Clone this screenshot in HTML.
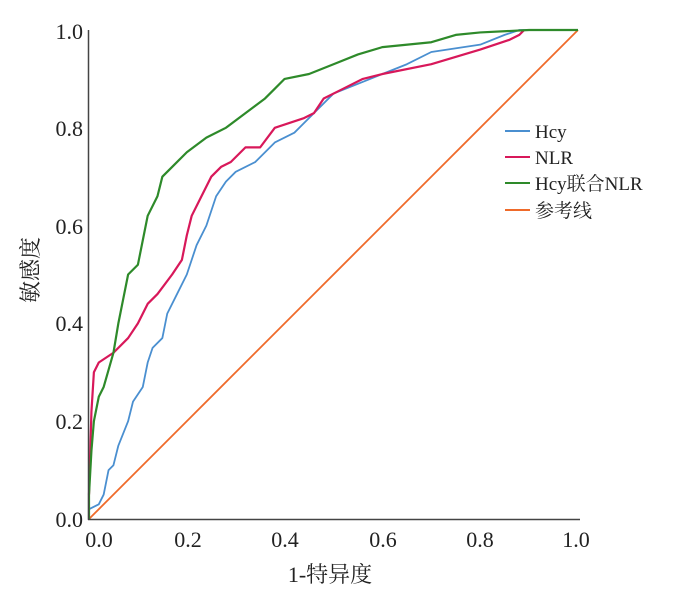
<!DOCTYPE html>
<html><head><meta charset="utf-8"><style>
body{margin:0;background:#fff;}
svg text{font-family:"Liberation Serif","Noto Serif CJK SC",serif;fill:#222;}
</style></head><body>
<svg width="700" height="591" xmlns="http://www.w3.org/2000/svg">
<g transform="translate(89,519) scale(489,-489)" fill="none" stroke-linejoin="round">
<line x1="0" y1="0" x2="1" y2="1" stroke="#ef6a2a" stroke-width="1.8" vector-effect="non-scaling-stroke"/>
<polyline vector-effect="non-scaling-stroke" stroke="#4a8fd0" stroke-width="1.8" points="0,0 0,0.02 0.02,0.03 0.03,0.05 0.04,0.1 0.05,0.11 0.06,0.15 0.08,0.2 0.09,0.24 0.11,0.27 0.12,0.32 0.13,0.35 0.15,0.37 0.16,0.42 0.18,0.46 0.2,0.5 0.22,0.56 0.24,0.6 0.26,0.66 0.28,0.69 0.3,0.71 0.34,0.73 0.38,0.77 0.42,0.79 0.46,0.83 0.5,0.87 0.55,0.89 0.6,0.91 0.65,0.93 0.7,0.955 0.8,0.97 0.85,0.99 0.88,1 1,1"/>
<polyline vector-effect="non-scaling-stroke" stroke="#d8185a" stroke-width="2.2" points="0,0.05 0.005,0.22 0.01,0.3 0.02,0.32 0.05,0.34 0.08,0.37 0.1,0.4 0.12,0.44 0.14,0.46 0.17,0.5 0.19,0.53 0.2,0.58 0.21,0.62 0.23,0.66 0.25,0.7 0.27,0.72 0.29,0.73 0.32,0.76 0.35,0.76 0.38,0.8 0.41,0.81 0.44,0.82 0.46,0.83 0.48,0.86 0.52,0.88 0.56,0.9 0.6,0.91 0.7,0.93 0.8,0.96 0.86,0.98 0.88,0.99 0.89,1"/>
<polyline vector-effect="non-scaling-stroke" stroke="#2e8a2a" stroke-width="2.2" points="0,0 0,0.05 0.005,0.14 0.01,0.2 0.02,0.25 0.03,0.27 0.05,0.34 0.06,0.4 0.07,0.45 0.08,0.5 0.1,0.52 0.11,0.57 0.12,0.62 0.14,0.66 0.15,0.7 0.17,0.72 0.2,0.75 0.24,0.78 0.28,0.8 0.32,0.83 0.36,0.86 0.38,0.88 0.4,0.9 0.45,0.91 0.5,0.93 0.55,0.95 0.6,0.965 0.7,0.975 0.75,0.99 0.8,0.995 0.9,1 1,1"/>
</g>
<line x1="88.5" y1="30" x2="88.5" y2="520" stroke="#444" stroke-width="1.5"/>
<line x1="88" y1="519.5" x2="580" y2="519.5" stroke="#444" stroke-width="1.5"/>
<g font-size="22" text-anchor="end">
<text x="83" y="527">0.0</text><text x="83" y="429">0.2</text><text x="83" y="331">0.4</text>
<text x="83" y="234">0.6</text><text x="83" y="136">0.8</text><text x="83" y="39">1.0</text>
</g>
<g font-size="22" text-anchor="middle">
<text x="99" y="547">0.0</text><text x="188" y="547">0.2</text><text x="285" y="547">0.4</text>
<text x="383" y="547">0.6</text><text x="480" y="547">0.8</text><text x="576" y="547">1.0</text>
</g>
<text x="330" y="582" font-size="22" text-anchor="middle">1-特异度</text>
<text transform="translate(38,270) rotate(-90)" font-size="22" text-anchor="middle">敏感度</text>
<g stroke-width="2">
<line x1="505" y1="131" x2="530" y2="131" stroke="#4a8fd0"/>
<line x1="505" y1="157" x2="530" y2="157" stroke="#d8185a"/>
<line x1="505" y1="183" x2="530" y2="183" stroke="#2e8a2a"/>
<line x1="505" y1="210" x2="530" y2="210" stroke="#ef6a2a"/>
</g>
<g font-size="19">
<text x="535" y="138">Hcy</text><text x="535" y="164">NLR</text>
<text x="535" y="190">Hcy联合NLR</text><text x="535" y="217">参考线</text>
</g>
</svg>
</body></html>
